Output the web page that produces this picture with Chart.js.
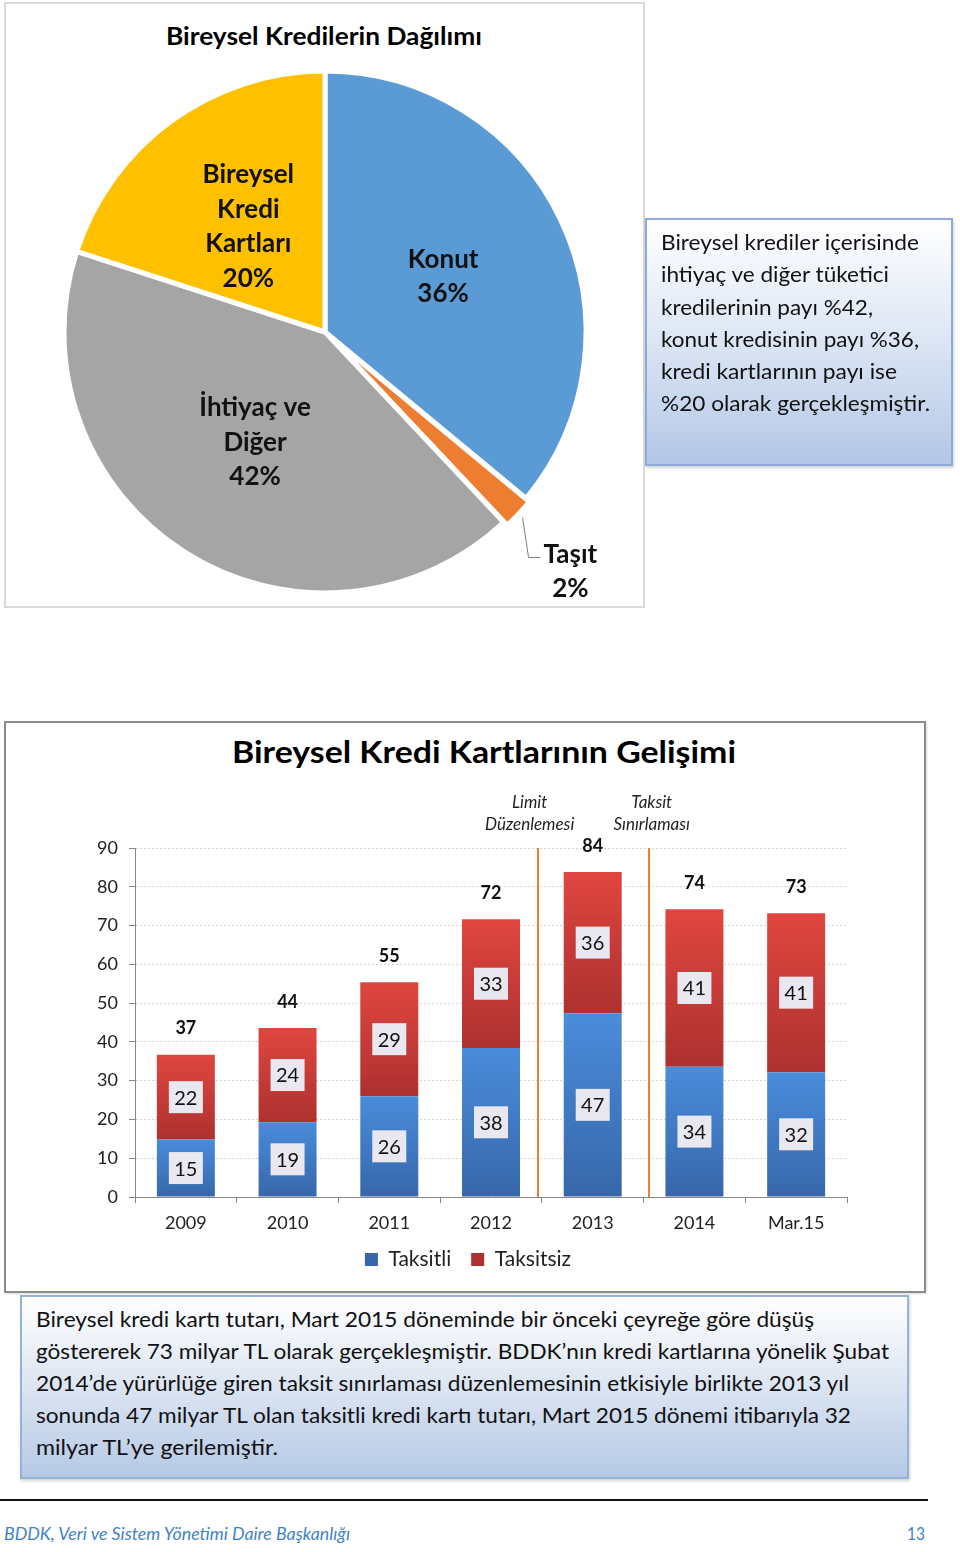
<!DOCTYPE html>
<html lang="tr">
<head>
<meta charset="utf-8">
<script src="https://cdn.jsdelivr.net/npm/chart.js@4.4.1/dist/chart.umd.min.js"></script>
<style>
*{box-sizing:border-box;}
html,body{margin:0;padding:0;background:#fff;}
body{position:relative;width:960px;height:1552px;overflow:hidden;font-family:Lato,"Open Sans",sans-serif;color:#111;}
.abs{position:absolute;}
.t{position:absolute;white-space:nowrap;display:inline-block;transform-origin:0 50%;line-height:1.2;}
.box1{left:645px;top:218px;width:308px;height:248px;border:2px solid #8EAADB;background:linear-gradient(to bottom,#ffffff 0%,#dfe8f5 45%,#b4c7e7 100%);box-shadow:1px 2px 3px rgba(0,0,0,0.18);}
.box2{left:20px;top:1295px;width:889px;height:184px;border:2px solid #95B3D7;background:linear-gradient(to bottom,#ffffff 0%,#dfe7f3 45%,#b6c9e6 100%);box-shadow:1px 2px 3px rgba(0,0,0,0.18);}
</style>
</head>
<body>
<div class="abs" style="left:4px;top:2px;width:641px;height:606px;border:2px solid #D9D9D9;"></div>
<div class="t" data-w="316" style="left:166px;top:20px;font-size:25px;font-weight:bold;color:#000;">Bireysel Kredilerin Dağılımı</div>
<canvas id="pie" class="abs" width="640" height="552" style="left:5px;top:56px;"></canvas>

<div class="abs box1"></div>
<div class="t" data-w="258" style="left:661px;top:229px;font-size:21px;">Bireysel krediler içerisinde</div>
<div class="t" data-w="228" style="left:661px;top:261px;font-size:21px;">ihtiyaç ve diğer tüketici</div>
<div class="t" data-w="212" style="left:661px;top:294px;font-size:21px;">kredilerinin payı %42,</div>
<div class="t" data-w="258" style="left:661px;top:326px;font-size:21px;">konut kredisinin payı %36,</div>
<div class="t" data-w="236" style="left:661px;top:358px;font-size:21px;">kredi kartlarının payı ise</div>
<div class="t" data-w="269" style="left:661px;top:390px;font-size:21px;">%20 olarak gerçekleşmiştir.</div>

<div class="abs" style="left:4px;top:721px;width:922px;height:572px;border:2px solid #8C8C8C;box-shadow:1px 1px 2px rgba(0,0,0,0.15);"></div>
<div class="t" data-w="504" style="left:232px;top:733px;font-size:31px;font-weight:bold;color:#000;">Bireysel Kredi Kartlarının Gelişimi</div>
<canvas id="bar" class="abs" width="917" height="567" style="left:6px;top:723px;"></canvas>

<div class="abs box2"></div>
<div class="t" data-w="778" style="left:36px;top:1306px;font-size:21px;">Bireysel kredi kartı tutarı, Mart 2015 döneminde bir önceki çeyreğe göre düşüş</div>
<div class="t" data-w="853" style="left:36px;top:1338px;font-size:21px;">göstererek 73 milyar TL olarak gerçekleşmiştir. BDDK’nın kredi kartlarına yönelik Şubat</div>
<div class="t" data-w="813" style="left:36px;top:1370px;font-size:21px;">2014’de yürürlüğe giren taksit sınırlaması düzenlemesinin etkisiyle birlikte 2013 yıl</div>
<div class="t" data-w="815" style="left:36px;top:1402px;font-size:21px;">sonunda 47 milyar TL olan taksitli kredi kartı tutarı, Mart 2015 dönemi itibarıyla 32</div>
<div class="t" data-w="242" style="left:36px;top:1434px;font-size:21px;">milyar TL’ye gerilemiştir.</div>

<div class="abs" style="left:0px;top:1499px;width:928px;height:2px;background:#111;"></div>
<div class="t" data-w="346" style="left:4px;top:1524px;font-size:17px;font-style:italic;color:#3F83C6;">BDDK, Veri ve Sistem Yönetimi Daire Başkanlığı</div>
<div class="t" data-w="18" style="left:907px;top:1524px;font-size:17px;color:#3F83C6;">13</div>

<script>
// ---------- Data ----------
const pieCategories = ['Konut', 'Taşıt', 'İhtiyaç ve Diğer', 'Bireysel Kredi Kartları'];
const pieShares = [36, 2, 42, 20];
const pieLabelLines = [['Konut'], ['Taşıt'], ['İhtiyaç ve', 'Diğer'], ['Bireysel', 'Kredi', 'Kartları']];
const pieColors = ['#5B9BD5', '#ED7D31', '#A5A5A5', '#FFC000'];
const pieOffsets = [0, 10, 0, 0];

const years = ['2009', '2010', '2011', '2012', '2013', '2014', 'Mar.15'];
const taksitli = [14.8, 19.3, 26.0, 38.4, 47.4, 33.6, 32.2];
const taksitsiz = [21.9, 24.3, 29.4, 33.2, 36.4, 40.6, 41.0];
const yMax = 90;
const yStep = 10;
const eventLines = [3.46, 4.55];
const eventLabelPos = [3.38, 4.58];
const eventTexts = [['Limit', 'Düzenlemesi'], ['Taksit', 'Sınırlaması']];

// ---------- Fit HTML text lines ----------
document.querySelectorAll('.t[data-w]').forEach(el => {
  const w = el.getBoundingClientRect().width;
  const target = +el.dataset.w;
  if (w > 0) el.style.transform = 'scaleX(' + (target / w).toFixed(4) + ')';
});

Chart.defaults.font.family = 'Lato, "Open Sans", sans-serif';

// ---------- Pie ----------
const pieLabelsPlugin = {
  id: 'pieLabels',
  afterDatasetsDraw(chart) {
    const {ctx} = chart;
    const meta = chart.getDatasetMeta(0);
    ctx.save();
    ctx.font = 'bold 26px Lato, "Open Sans", sans-serif';
    ctx.fillStyle = '#111';
    ctx.textBaseline = 'middle';
    meta.data.forEach((arc, i) => {
      const lines = pieLabelLines[i].concat([pieShares[i] + '%']);
      if (pieOffsets[i] > 0) {
        const mid = (arc.startAngle + arc.endAngle) / 2;
        const r = arc.outerRadius + pieOffsets[i];
        const sx = arc.x + Math.cos(mid) * r, sy = arc.y + Math.sin(mid) * r;
        const ex = sx + 6, ey = sy + 40;
        ctx.strokeStyle = '#7f7f7f'; ctx.lineWidth = 1;
        ctx.beginPath(); ctx.moveTo(sx, sy); ctx.lineTo(ex, ey); ctx.lineTo(ex + 12, ey); ctx.stroke();
        const w0 = ctx.measureText(lines[0]).width;
        const cx = ex + 15 + w0 / 2;
        ctx.textAlign = 'center';
        lines.forEach((t, k) => ctx.fillText(t, cx, ey - 3 + k * 34));
      } else {
        const p = arc.tooltipPosition();
        ctx.textAlign = 'center';
        lines.forEach((t, k) => ctx.fillText(t, p.x, p.y + (k - (lines.length - 1) / 2) * 34.5));
      }
    });
    ctx.restore();
  }
};

new Chart(document.getElementById('pie'), {
  type: 'pie',
  data: {
    labels: pieCategories,
    datasets: [{
      data: pieShares,
      backgroundColor: pieColors,
      borderColor: '#ffffff',
      borderWidth: 5,
      offset: pieOffsets,
      radius: 261
    }]
  },
  options: {
    responsive: false,
    animation: false,
    devicePixelRatio: 1,
    layout: {padding: 0},
    plugins: {legend: {display: false}, tooltip: {enabled: false}}
  },
  plugins: [pieLabelsPlugin]
});

// ---------- Bar ----------
function segGradient(topColor, bottomColor, solid) {
  return (c) => {
    const chart = c.chart;
    if (c.type !== 'data' || !chart.chartArea || !chart.scales.y) return solid;
    const i = c.dataIndex;
    let base = 0;
    for (let d = 0; d < c.datasetIndex; d++) base += chart.data.datasets[d].data[i];
    const y0 = chart.scales.y.getPixelForValue(base + c.raw);
    const y1 = chart.scales.y.getPixelForValue(base);
    if (!isFinite(y0) || !isFinite(y1)) return solid;
    const g = chart.ctx.createLinearGradient(0, y0, 0, y1);
    g.addColorStop(0, topColor);
    g.addColorStop(1, bottomColor);
    return g;
  };
}

const barLabelsPlugin = {
  id: 'barLabels',
  afterDatasetsDraw(chart) {
    const {ctx} = chart;
    ctx.save();
    ctx.textAlign = 'center';
    ctx.textBaseline = 'middle';
    chart.data.datasets.forEach((ds, di) => {
      const meta = chart.getDatasetMeta(di);
      meta.data.forEach((bar, i) => {
        const cy = (bar.y + bar.base) / 2;
        ctx.fillStyle = '#E9E7EF';
        ctx.fillRect(bar.x - 17, cy - 16, 34, 32);
        ctx.fillStyle = '#111';
        ctx.font = '20px Lato, "Open Sans", sans-serif';
        ctx.fillText(String(Math.round(ds.data[i])), bar.x, cy + 1);
      });
    });
    const last = chart.getDatasetMeta(chart.data.datasets.length - 1);
    last.data.forEach((bar, i) => {
      const total = chart.data.datasets.reduce((s, d) => s + d.data[i], 0);
      ctx.font = 'bold 18px Lato, "Open Sans", sans-serif';
      ctx.fillStyle = '#111';
      ctx.fillText(String(Math.round(total)), bar.x, bar.y - 26);
    });
    ctx.restore();
  }
};

const eventsPlugin = {
  id: 'events',
  afterDatasetsDraw(chart) {
    const {ctx, scales: {x, y}} = chart;
    const top = y.getPixelForValue(yMax), bottom = y.getPixelForValue(0);
    ctx.save();
    ctx.strokeStyle = '#ED7D31';
    ctx.lineWidth = 2;
    eventLines.forEach(v => {
      const px = Math.round(x.getPixelForValue(v));
      ctx.beginPath(); ctx.moveTo(px, top); ctx.lineTo(px, bottom); ctx.stroke();
    });
    ctx.font = 'italic 17px Lato, "Open Sans", sans-serif';
    ctx.fillStyle = '#222';
    ctx.textAlign = 'center';
    ctx.textBaseline = 'middle';
    eventTexts.forEach((lines, k) => {
      const px = x.getPixelForValue(eventLabelPos[k]);
      lines.forEach((t, j) => ctx.fillText(t, px, top - 45 + j * 22));
    });
    ctx.restore();
  }
};

new Chart(document.getElementById('bar'), {
  type: 'bar',
  data: {
    labels: years,
    datasets: [
      {label: 'Taksitli', data: taksitli, borderWidth: 0,
       backgroundColor: segGradient('#4A8CDB', '#3767AA', '#3E7CC9')},
      {label: 'Taksitsiz', data: taksitsiz, borderWidth: 0,
       backgroundColor: segGradient('#E0463F', '#AD3130', '#C63B37')}
    ]
  },
  options: {
    responsive: false,
    animation: false,
    devicePixelRatio: 1,
    layout: {padding: {left: 83, right: 76, top: 125, bottom: 10}},
    datasets: {bar: {categoryPercentage: 1, barPercentage: 0.57}},
    scales: {
      x: {
        stacked: true,
        grid: {display: true, drawOnChartArea: false, drawTicks: true, tickLength: 6, tickColor: '#868686', offset: true},
        border: {display: true, color: '#868686', width: 1},
        ticks: {font: {size: 18}, color: '#222', padding: 9, maxRotation: 0},
        afterFit(s) { s.height = 32; }
      },
      y: {
        stacked: true,
        min: 0,
        max: yMax,
        ticks: {stepSize: yStep, font: {size: 18}, color: '#222', padding: 11},
        grid: {color: '#D4D4D4', tickColor: '#868686', tickLength: 6},
        border: {display: true, color: '#868686', width: 1, dash: [2, 2]},
        afterFit(s) { s.width = 46; }
      }
    },
    plugins: {
      legend: {position: 'bottom', labels: {boxWidth: 13, boxHeight: 13, font: {size: 21}, color: '#222', padding: 20}},
      tooltip: {enabled: false},
      title: {display: false}
    }
  },
  plugins: [eventsPlugin, barLabelsPlugin]
});
</script>
</body>
</html>
